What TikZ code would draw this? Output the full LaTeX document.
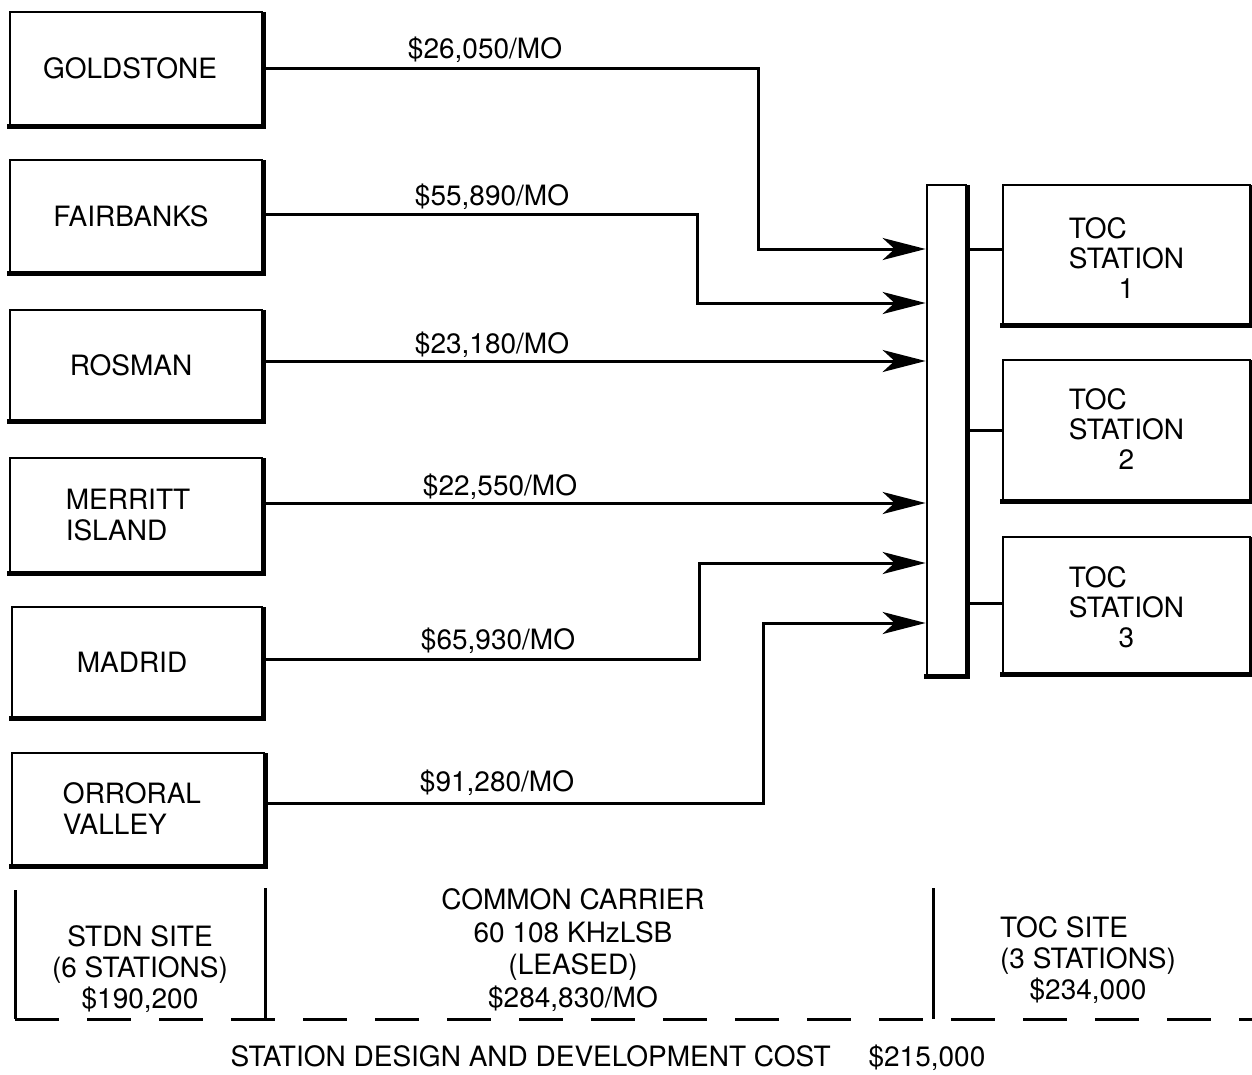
\documentclass[tikz,border=0pt]{standalone}
\usepackage{fontspec}
\setmainfont{TeX Gyre Heros}
\usetikzlibrary{arrows.meta}
\begin{document}
\begin{tikzpicture}[x=1pt,y=-1pt,
  every node/.style={font=\fontsize{28}{31}\selectfont, inner sep=0pt},
  site/.style={draw, line width=2.8pt, minimum width=252pt, align=left},
  toc/.style={draw, line width=2.8pt, minimum width=247pt},
  conn/.style={line width=3pt, -{Stealth[length=43pt,width=22pt,inset=12pt]}},
  link/.style={line width=3pt},
  heavyedge/.style={line width=5.5pt, line join=miter},
  sep/.style={line width=3pt},
]
\fill[white] (0,0) rectangle (1252,1074);
\useasboundingbox (0,0) rectangle (1252,1074);

% STDN site boxes
\node[site, minimum height=113pt] (gold) at (136,68.5) {GOLDSTONE\hspace*{12pt}};
\node[site, minimum height=112pt] (fair) at (136,216) {FAIRBANKS\hspace*{10pt}};
\node[site, minimum height=110pt] (ros) at (136,365) {ROSMAN\hspace*{10pt}};
\node[site, minimum height=114pt] (mer) at (136,515) {MERRITT\hspace*{16pt}\\ISLAND};
\node[site, minimum height=110pt, minimum width=250pt] (mad) at (137,662) {MADRID\hspace*{10pt}};
\node[site, minimum height=112pt] (orr) at (138,809) {ORRORAL\hspace*{12pt}\\VALLEY};

% bus
\node[draw, line width=2.8pt, minimum width=39pt, minimum height=490pt] (bus) at (946.5,430) {};

% TOC stations
\node[toc, minimum height=139pt] (tb1) at (1126.5,254.5) {\raisebox{-8pt}[\height][\depth]{\begin{tabular}{@{}l@{}}TOC\\[-1pt]STATION\\[-1pt]\multicolumn{1}{@{}c@{}}{1}\end{tabular}}};
\node[toc, minimum height=140pt] (tb2) at (1126.5,430) {\raisebox{-3pt}[\height][\depth]{\begin{tabular}{@{}l@{}}TOC\\[-1pt]STATION\\[-1pt]\multicolumn{1}{@{}c@{}}{2}\end{tabular}}};
\node[toc, minimum height=136pt] (tb3) at (1126.5,605) {\raisebox{-6pt}[\height][\depth]{\begin{tabular}{@{}l@{}}TOC\\[-1pt]STATION\\[-1pt]\multicolumn{1}{@{}c@{}}{3}\end{tabular}}};

\foreach \n in {gold,fair,ros,mer,mad,orr,tb1,tb2,tb3,bus}
  \draw[heavyedge] ([xshift=-1.4pt]\n.south west) -- (\n.south east) -- ([yshift=-1.4pt]\n.north east);

% connectors
\draw[conn] (gold.east) -| (758,249) -- (bus.west |- 0,249);
\draw[conn] (fair.east |- 0,214) -| (697,303) -- (bus.west |- 0,303);
\draw[conn] (ros.east |- 0,361) -- (bus.west |- 0,361);
\draw[conn] (mer.east |- 0,503) -- (bus.west |- 0,503);
\draw[conn] (mad.east |- 0,659) -| (699,563) -- (bus.west |- 0,563);
\draw[conn] (orr.east |- 0,803) -| (763,623) -- (bus.west |- 0,623);

\draw[link] (bus.east |- 0,249) -- (tb1.west |- 0,249);
\draw[link] (bus.east |- 0,430) -- (tb2.west |- 0,430);
\draw[link] (bus.east |- 0,603) -- (tb3.west |- 0,603);

% cost labels
\node (c1) at (485,50) {\$26,050/MO};
\node (c2) at (492,197) {\$55,890/MO};
\node (c3) at (492,345) {\$23,180/MO};
\node (c4) at (500,487) {\$22,550/MO};
\node (c5) at (498,641) {\$65,930/MO};
\node (c6) at (497,783) {\$91,280/MO};

% bottom section
\draw[sep] (15,890) -- (15,1019);
\draw[sep] (265,888) -- (265,1019);
\draw[sep] (933,888) -- (933,1019);
\draw[sep, dash pattern=on 44pt off 28pt] (15,1019) -- (1252,1019);

\node[align=center] (stdn) at (140,969) {STDN SITE\\(6 STATIONS)\\\$190,200};
\node[align=center, font=\fontsize{28}{32.7}\selectfont] (cc) at (573,950) {COMMON CARRIER\\60 108 KHzLSB\\(LEASED)\\\$284,830/MO};
\node (ts) at (1088,962) {\begin{tabular}{@{}l@{}}TOC SITE\\(3 STATIONS)\\\multicolumn{1}{@{}c@{}}{\$234,000}\end{tabular}};
\node (total) at (608,1058) {STATION DESIGN AND DEVELOPMENT COST\hspace{38pt}\$215,000};
\end{tikzpicture}
\end{document}
